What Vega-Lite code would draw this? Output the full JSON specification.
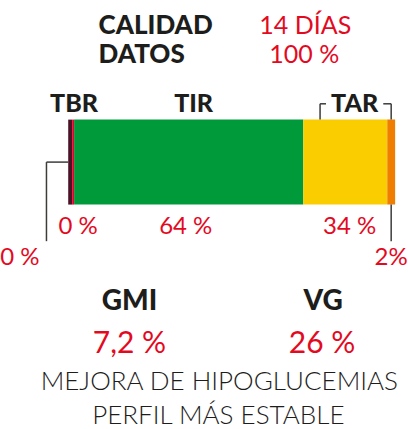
{
  "$schema": "https://vega.github.io/schema/vega-lite/v6.json",
  "width": 408,
  "height": 429,
  "padding": 0,
  "autosize": {"type": "fit", "contains": "padding"},
  "background": "white",
  "config": {
    "view": {"stroke": null},
    "axis": {"disable": true},
    "legend": {"disable": true},
    "text": {"font": "Lato", "baseline": "alphabetic"}
  },
  "datasets": {
    "rangos": [
      {"tramo": "TBR muy bajo", "grupo": "TBR", "porcentaje": "0 %", "ancho": 1.2, "orden": 1},
      {"tramo": "TBR bajo", "grupo": "TBR", "porcentaje": "0 %", "ancho": 0.6, "orden": 2},
      {"tramo": "TIR", "grupo": "TIR", "porcentaje": "64 %", "ancho": 70.1, "orden": 3},
      {"tramo": "TAR alto", "grupo": "TAR", "porcentaje": "34 %", "ancho": 25.7, "orden": 4},
      {"tramo": "TAR muy alto", "grupo": "TAR", "porcentaje": "2%", "ancho": 2.4, "orden": 5}
    ],
    "cabecera": [
      {"etiqueta": "CALIDAD", "valor": "14 DÍAS"},
      {"etiqueta": "DATOS", "valor": "100 %"}
    ],
    "indicadores": [
      {"indicador": "GMI", "valor": "7,2 %"},
      {"indicador": "VG", "valor": "26 %"}
    ],
    "notas": [
      {"nota": "MEJORA DE HIPOGLUCEMIAS", "linea": 1},
      {"nota": "PERFIL MÁS ESTABLE", "linea": 2}
    ]
  },
  "layer": [
    {
      "data": {"name": "rangos"},
      "transform": [
        {"stack": "ancho", "groupby": [], "sort": [{"field": "orden"}], "as": ["x0", "x1"]}
      ],
      "mark": {"type": "rect"},
      "encoding": {
        "x": {"field": "x0", "type": "quantitative", "scale": {"domain": [-19.64, 103.63], "nice": false, "zero": false}},
        "x2": {"field": "x1"},
        "y": {"datum": 28.21, "type": "quantitative", "scale": {"domain": [0, 100], "nice": false, "zero": false, "reverse": true}},
        "y2": {"datum": 48.25},
        "color": {
          "field": "tramo", "type": "nominal",
          "scale": {
            "domain": ["TBR muy bajo", "TBR bajo", "TIR", "TAR alto", "TAR muy alto"],
            "range": ["#4b1226", "#e4032e", "#009a3b", "#f9cd00", "#ee7d00"]
          }
        }
      }
    },
    {
      "data": {"name": "cabecera"},
      "transform": [{"filter": "datum.etiqueta == 'CALIDAD'"}],
      "mark": {"type": "text", "align": "left", "fontSize": 26, "fontWeight": 900, "color": "#1d1d1b"},
      "encoding": {"x": {"datum": 9.3}, "y": {"datum": 7.93}, "text": {"field": "etiqueta"}}
    },
    {
      "data": {"name": "cabecera"},
      "transform": [{"filter": "datum.etiqueta == 'DATOS'"}],
      "mark": {"type": "text", "align": "left", "fontSize": 26, "fontWeight": 900, "color": "#1d1d1b"},
      "encoding": {"x": {"datum": 9.3}, "y": {"datum": 14.92}, "text": {"field": "etiqueta"}}
    },
    {
      "data": {"name": "cabecera"},
      "transform": [{"filter": "datum.etiqueta == 'CALIDAD'"}],
      "mark": {"type": "text", "align": "center", "fontSize": 25, "fontWeight": 400, "color": "#e30a1f"},
      "encoding": {"x": {"datum": 72.51}, "y": {"datum": 8.0}, "text": {"field": "valor"}}
    },
    {
      "data": {"name": "cabecera"},
      "transform": [{"filter": "datum.etiqueta == 'DATOS'"}],
      "mark": {"type": "text", "align": "center", "fontSize": 25, "fontWeight": 400, "color": "#e30a1f"},
      "encoding": {"x": {"datum": 72.21}, "y": {"datum": 14.8}, "text": {"field": "valor"}}
    },
    {
      "data": {"name": "rangos"},
      "transform": [{"filter": "datum.orden == 1"}],
      "mark": {"type": "text", "align": "center", "fontSize": 25, "fontWeight": 900, "color": "#1d1d1b"},
      "encoding": {"x": {"datum": 1.8}, "y": {"datum": 26.34}, "text": {"field": "grupo"}}
    },
    {
      "data": {"name": "rangos"},
      "transform": [{"filter": "datum.orden == 3"}],
      "mark": {"type": "text", "align": "center", "fontSize": 25, "fontWeight": 900, "color": "#1d1d1b"},
      "encoding": {"x": {"datum": 38.37}, "y": {"datum": 26.34}, "text": {"field": "grupo"}}
    },
    {
      "data": {"name": "rangos"},
      "transform": [{"filter": "datum.orden == 4"}],
      "mark": {"type": "text", "align": "center", "fontSize": 25, "fontWeight": 900, "color": "#1d1d1b"},
      "encoding": {"x": {"datum": 87.61}, "y": {"datum": 26.34}, "text": {"field": "grupo"}}
    },
    {
      "data": {"name": "rangos"},
      "transform": [{"filter": "datum.orden == 1"}],
      "mark": {"type": "text", "align": "center", "fontSize": 24, "fontWeight": 400, "color": "#e30a1f"},
      "encoding": {"x": {"datum": -14.8}, "y": {"datum": 62.47}, "text": {"field": "porcentaje"}}
    },
    {
      "data": {"name": "rangos"},
      "transform": [{"filter": "datum.orden == 2"}],
      "mark": {"type": "text", "align": "center", "fontSize": 24, "fontWeight": 400, "color": "#e30a1f"},
      "encoding": {"x": {"datum": 3.02}, "y": {"datum": 55.24}, "text": {"field": "porcentaje"}}
    },
    {
      "data": {"name": "rangos"},
      "transform": [{"filter": "datum.orden == 3"}],
      "mark": {"type": "text", "align": "center", "fontSize": 24, "fontWeight": 400, "color": "#e30a1f"},
      "encoding": {"x": {"datum": 35.95}, "y": {"datum": 55.24}, "text": {"field": "porcentaje"}}
    },
    {
      "data": {"name": "rangos"},
      "transform": [{"filter": "datum.orden == 4"}],
      "mark": {"type": "text", "align": "center", "fontSize": 24, "fontWeight": 400, "color": "#e30a1f"},
      "encoding": {"x": {"datum": 86.1}, "y": {"datum": 55.24}, "text": {"field": "porcentaje"}}
    },
    {
      "data": {"name": "rangos"},
      "transform": [{"filter": "datum.orden == 5"}],
      "mark": {"type": "text", "align": "center", "fontSize": 24, "fontWeight": 400, "color": "#e30a1f"},
      "encoding": {"x": {"datum": 98.79}, "y": {"datum": 62.47}, "text": {"field": "porcentaje"}}
    },
    {
      "data": {"name": "rangos"},
      "transform": [{"filter": "datum.orden == 1"}],
      "mark": {"type": "rule", "color": "#3c3c3b", "strokeWidth": 1.5},
      "encoding": {"x": {"datum": -6.65}, "x2": {"datum": 0}, "y": {"datum": 38.23}}
    },
    {
      "data": {"name": "rangos"},
      "transform": [{"filter": "datum.orden == 1"}],
      "mark": {"type": "rule", "color": "#3c3c3b", "strokeWidth": 1.5},
      "encoding": {"x": {"datum": -6.65}, "y": {"datum": 38.23}, "y2": {"datum": 56.88}}
    },
    {
      "data": {"name": "rangos"},
      "transform": [{"filter": "datum.orden == 4"}],
      "mark": {"type": "rule", "color": "#3c3c3b", "strokeWidth": 1.5},
      "encoding": {"x": {"datum": 77.04}, "y": {"datum": 24.48}, "y2": {"datum": 28.21}}
    },
    {
      "data": {"name": "rangos"},
      "transform": [{"filter": "datum.orden == 4"}],
      "mark": {"type": "rule", "color": "#3c3c3b", "strokeWidth": 1.5},
      "encoding": {"x": {"datum": 77.04}, "x2": {"datum": 78.85}, "y": {"datum": 24.48}}
    },
    {
      "data": {"name": "rangos"},
      "transform": [{"filter": "datum.orden == 4"}],
      "mark": {"type": "rule", "color": "#3c3c3b", "strokeWidth": 1.5},
      "encoding": {"x": {"datum": 96.37}, "x2": {"datum": 98.79}, "y": {"datum": 24.48}}
    },
    {
      "data": {"name": "rangos"},
      "transform": [{"filter": "datum.orden == 4"}],
      "mark": {"type": "rule", "color": "#3c3c3b", "strokeWidth": 1.5},
      "encoding": {"x": {"datum": 98.79}, "y": {"datum": 24.48}, "y2": {"datum": 28.21}}
    },
    {
      "data": {"name": "rangos"},
      "transform": [{"filter": "datum.orden == 5"}],
      "mark": {"type": "rule", "color": "#3c3c3b", "strokeWidth": 1.5},
      "encoding": {"x": {"datum": 98.79}, "y": {"datum": 48.25}, "y2": {"datum": 56.88}}
    },
    {
      "data": {"name": "indicadores"},
      "transform": [{"filter": "datum.indicador == 'GMI'"}],
      "mark": {"type": "text", "align": "center", "fontSize": 28, "fontWeight": 900, "color": "#1d1d1b"},
      "encoding": {"x": {"datum": 18.73}, "y": {"datum": 73.2}, "text": {"field": "indicador"}}
    },
    {
      "data": {"name": "indicadores"},
      "transform": [{"filter": "datum.indicador == 'VG'"}],
      "mark": {"type": "text", "align": "center", "fontSize": 28, "fontWeight": 900, "color": "#1d1d1b"},
      "encoding": {"x": {"datum": 77.95}, "y": {"datum": 73.2}, "text": {"field": "indicador"}}
    },
    {
      "data": {"name": "indicadores"},
      "transform": [{"filter": "datum.indicador == 'GMI'"}],
      "mark": {"type": "text", "align": "center", "fontSize": 30, "fontWeight": 400, "color": "#e30a1f"},
      "encoding": {"x": {"datum": 18.73}, "y": {"datum": 83.3}, "text": {"field": "valor"}}
    },
    {
      "data": {"name": "indicadores"},
      "transform": [{"filter": "datum.indicador == 'VG'"}],
      "mark": {"type": "text", "align": "center", "fontSize": 30, "fontWeight": 400, "color": "#e30a1f"},
      "encoding": {"x": {"datum": 77.64}, "y": {"datum": 83.3}, "text": {"field": "valor"}}
    },
    {
      "data": {"name": "notas"},
      "transform": [{"filter": "datum.linea == 1"}],
      "mark": {"type": "text", "align": "center", "fontSize": 26, "fontWeight": 300, "color": "#1d1d1b"},
      "encoding": {"x": {"datum": 46.22}, "y": {"datum": 91.9}, "text": {"field": "nota"}}
    },
    {
      "data": {"name": "notas"},
      "transform": [{"filter": "datum.linea == 2"}],
      "mark": {"type": "text", "align": "center", "fontSize": 26, "fontWeight": 300, "color": "#1d1d1b"},
      "encoding": {"x": {"datum": 45.92}, "y": {"datum": 100}, "text": {"field": "nota"}}
    }
  ]
}
